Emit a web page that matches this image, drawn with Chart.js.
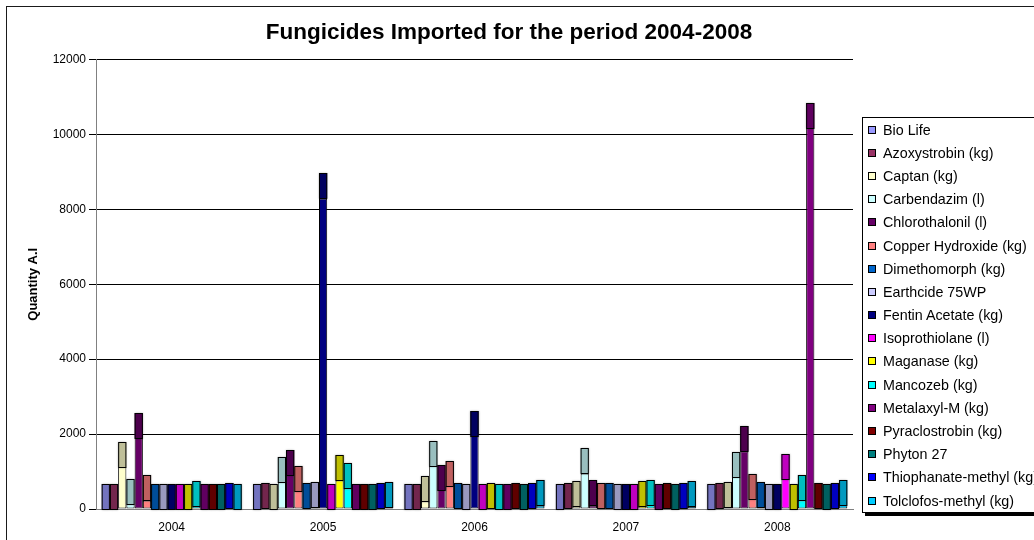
<!DOCTYPE html>
<html>
<head>
<meta charset="utf-8">
<script src="https://cdn.jsdelivr.net/npm/chart.js@4.4.1/dist/chart.umd.min.js"></script>
<style>
  html, body { margin: 0; padding: 0; background: #fff; }
  body { width: 1034px; height: 540px; overflow: hidden; position: relative;
         font-family: "Liberation Sans", Arial, Helvetica, sans-serif; }
  #frame { position: absolute; left: 6px; top: 6px; width: 1200px; height: 700px;
           border-left: 1px solid #1a1a1a; border-top: 1px solid #1a1a1a; }
  #chart { position: absolute; left: 0; top: 0; }
  #legend { position: absolute; left: 862px; top: 117px; width: 220px;
            border: 1px solid #000; background: #fff; box-shadow: 3px 3px 0 #000; }
  .item { height: 23.2px; display: flex; align-items: center; font-size: 14.3px;
          color: #000; white-space: nowrap; }
  .swatch { width: 6px; height: 6px; border: 1px solid #000; margin-left: 5px; margin-right: 7px; flex: none; }
</style>
</head>
<body>
<div id="frame"></div>
<canvas id="chart" width="1018" height="540"></canvas>
<div id="legend"></div>
<script>
// Import years (categories)
const years = ['2004', '2005', '2006', '2007', '2008'];

// Fungicide names, in legend order
const products = [
  'Bio Life', 'Azoxystrobin (kg)', 'Captan (kg)', 'Carbendazim (l)', 'Chlorothalonil (l)',
  'Copper Hydroxide (kg)', 'Dimethomorph (kg)', 'Earthcide 75WP', 'Fentin Acetate (kg)',
  'Isoprothiolane (l)', 'Maganase (kg)', 'Mancozeb (kg)', 'Metalaxyl-M (kg)',
  'Pyraclostrobin (kg)', 'Phyton 27', 'Thiophanate-methyl (kg)', 'Tolclofos-methyl (kg)'
];

// Quantity A.I imported per year, one array per fungicide
const bioLife           = [0, 0, 0, 0, 0];
const azoxystrobin      = [0, 35, 0, 40, 40];
const captan            = [1120, 0, 210, 80, 60];
const carbendazim       = [140, 730, 1160, 950, 860];
const chlorothalonil    = [1900, 920, 520, 95, 1540];
const copperHydroxide   = [230, 490, 620, 30, 270];
const dimethomorph      = [0, 35, 30, 35, 60];
const earthcide         = [0, 60, 0, 0, 0];
const fentinAcetate     = [0, 8290, 1950, 0, 0];
const isoprothiolane    = [0, 0, 0, 0, 805];
const maganase          = [0, 770, 35, 80, 0];
const mancozeb          = [90, 555, 0, 120, 235];
const metalaxylM        = [0, 0, 0, 0, 10170];
const pyraclostrobin    = [0, 0, 35, 35, 20];
const phyton27          = [0, 0, 0, 0, 0];
const thiophanateMethyl = [40, 35, 35, 35, 30];
const tolclofosMethyl   = [0, 60, 95, 75, 120];

const seriesValues = [
  bioLife, azoxystrobin, captan, carbendazim, chlorothalonil, copperHydroxide,
  dimethomorph, earthcide, fentinAcetate, isoprothiolane, maganase, mancozeb,
  metalaxylM, pyraclostrobin, phyton27, thiophanateMethyl, tolclofosMethyl
];

// Y axis tick values
const yTicks = [0, 2000, 4000, 6000, 8000, 10000, 12000];

// Front-face colours of the columns
const faceColors = [
  '#9999FF', '#993366', '#FFFFCC', '#CCFFFF', '#660066', '#FF8080', '#0066CC', '#CCCCFF',
  '#000080', '#FF00FF', '#FFFF00', '#00FFFF', '#800080', '#800000', '#008080', '#0000FF', '#00CCFF'
];

// Top faces are the same hue, shaded darker
function shade(hex, f) {
  const n = parseInt(hex.slice(1), 16);
  const r = Math.round(((n >> 16) & 255) * f);
  const g = Math.round(((n >> 8) & 255) * f);
  const b = Math.round((n & 255) * f);
  return `rgb(${r},${g},${b})`;
}

const FONT = '"Liberation Sans", Arial, Helvetica, sans-serif';
const TOP_FACE_PX = 25;

// Draws the shaded top face above each column, giving the 3-D column look
const topFacePlugin = {
  id: 'topFaces',
  afterDatasetsDraw(chart) {
    const ctx = chart.ctx;
    ctx.save();
    chart.data.datasets.forEach((ds, i) => {
      const meta = chart.getDatasetMeta(i);
      meta.data.forEach(bar => {
        const { x, y, width } = bar.getProps(['x', 'y', 'width'], true);
        const left = x - width / 2;
        const bottom = Math.round(y);
        const top = bottom - TOP_FACE_PX;
        ctx.shadowColor = 'rgba(0,0,0,0.28)';
        ctx.shadowBlur = 2;
        ctx.fillStyle = ds.topColor;
        ctx.fillRect(left, top, width, bottom - top + 0.5);
        ctx.shadowColor = 'transparent';
        ctx.shadowBlur = 0;
        ctx.strokeStyle = '#000';
        ctx.lineWidth = 1;
        ctx.strokeRect(left + 0.5, top + 0.5, width - 1, bottom - top);
      });
    });
    ctx.restore();
  }
};

const datasets = products.map((name, i) => ({
  label: name,
  data: seriesValues[i],
  backgroundColor: faceColors[i],
  topColor: shade(faceColors[i], 0.75),
  borderColor: '#000',
  borderWidth: 1,
  borderSkipped: false,
  categoryPercentage: 0.925,
  barPercentage: 1.0
}));

new Chart(document.getElementById('chart'), {
  type: 'bar',
  data: { labels: years, datasets },
  plugins: [topFacePlugin],
  options: {
    responsive: false,
    animation: false,
    layout: { padding: 0 },
    plugins: {
      legend: { display: false },
      tooltip: { enabled: false },
      title: {
        display: true,
        text: 'Fungicides Imported for the period 2004-2008',
        color: '#000',
        font: { family: FONT, size: 22.5, weight: 'bold' },
        padding: { top: 19, bottom: 13.5 }
      }
    },
    scales: {
      x: {
        grid: { display: false, drawTicks: false },
        border: { color: '#808080' },
        ticks: { color: '#000', font: { family: FONT, size: 12 }, padding: 11 },
        afterFit(s) { s.height = 31; }
      },
      y: {
        min: 0,
        max: 12000,
        afterBuildTicks(s) { s.ticks = yTicks.map(v => ({ value: v })); },
        ticks: { color: '#000', font: { family: FONT, size: 12 }, padding: 3,
                 callback: v => String(v) },
        grid: {
          color: c => (c.tick && c.tick.value === 0) ? '#808080' : '#000',
          tickColor: '#000',
          tickLength: 7,
          lineWidth: 1
        },
        border: { color: '#808080' },
        title: {
          display: true,
          text: 'Quantity A.I',
          color: '#000',
          font: { family: FONT, size: 13, weight: 'bold' },
          padding: { top: 26, bottom: 4 }
        },
        afterFit(s) { s.width = 96; }
      },
      side: {
        type: 'linear',
        position: 'right',
        display: true,
        ticks: { display: false },
        grid: { display: false, drawTicks: false },
        border: { display: false },
        afterFit(s) { s.width = 165; }
      }
    }
  }
});

// Legend box
const legend = document.getElementById('legend');
products.forEach((name, i) => {
  const row = document.createElement('div');
  row.className = 'item';
  const sw = document.createElement('span');
  sw.className = 'swatch';
  sw.style.background = faceColors[i];
  const txt = document.createElement('span');
  txt.textContent = name;
  row.appendChild(sw);
  row.appendChild(txt);
  legend.appendChild(row);
});
</script>
</body>
</html>
